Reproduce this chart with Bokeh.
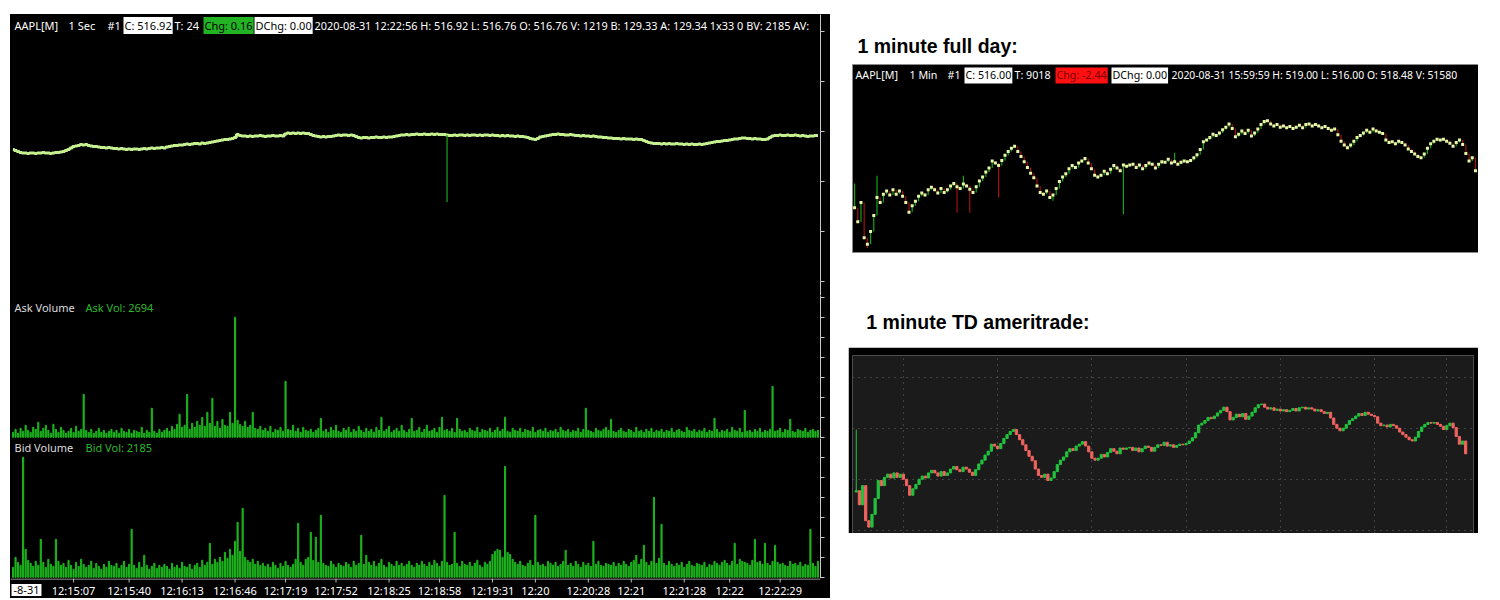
from bokeh.models import (Range1d, Label, FixedTicker, ColumnDataSource, Spacer, Grid,
                          CustomJSTickFormatter, Span)
from bokeh.core.properties import value
from bokeh.layouts import row, column
from bokeh.plotting import figure
from bokeh.embed import file_html
from bokeh.resources import INLINE

UI_FONT = "Noto Sans"
TITLE_FONT = "Liberation Sans"

# ---------------- 1-second chart data (bar index based) ----------------
sec_price = [
    516.64,516.62,516.60,516.58,516.57,516.57,516.56,516.57,516.57,516.56,516.57,516.57,516.58,516.57,516.57,516.56,516.57,516.58,516.58,516.59,
    516.60,516.62,516.64,516.67,516.70,516.71,516.72,516.74,516.73,516.74,516.72,516.71,516.70,516.70,516.69,516.68,516.68,516.67,516.68,516.67,
    516.66,516.66,516.65,516.66,516.65,516.64,516.65,516.64,516.65,516.65,516.64,516.65,516.66,516.65,516.66,516.67,516.66,516.67,516.67,516.68,
    516.67,516.69,516.70,516.71,516.72,516.72,516.73,516.73,516.74,516.75,516.74,516.75,516.76,516.76,516.75,516.77,516.76,516.77,516.78,516.79,
    516.80,516.81,516.82,516.83,516.84,516.84,516.85,516.86,516.88,516.94,516.92,516.91,516.91,516.90,516.91,516.90,516.91,516.91,516.92,516.91,
    516.90,516.91,516.91,516.92,516.91,516.91,516.92,516.91,516.95,516.97,516.96,516.97,516.96,516.97,516.96,516.97,516.96,516.96,516.94,516.92,
    516.91,516.90,516.89,516.90,516.89,516.90,516.90,516.91,516.92,516.93,516.92,516.93,516.93,516.92,516.93,516.92,516.90,516.88,516.87,516.88,
    516.88,516.87,516.88,516.88,516.89,516.88,516.88,516.89,516.88,516.89,516.89,516.90,516.91,516.92,516.93,516.93,516.94,516.93,516.94,516.94,
    516.95,516.94,516.94,516.95,516.94,516.94,516.95,516.94,516.95,516.94,516.94,516.94,516.93,516.92,516.92,516.93,516.92,516.93,516.93,516.92,
    516.93,516.92,516.93,516.93,516.92,516.93,516.92,516.93,516.93,516.92,516.93,516.92,516.92,516.91,516.92,516.91,516.92,516.91,516.91,516.90,
    516.91,516.90,516.90,516.89,516.88,516.86,516.85,516.84,516.86,516.89,516.90,516.91,516.92,516.93,516.94,516.94,516.95,516.94,516.94,516.93,
    516.93,516.94,516.93,516.92,516.92,516.91,516.92,516.91,516.91,516.90,516.91,516.90,516.89,516.89,516.88,516.88,516.87,516.87,516.86,516.86,
    516.86,516.85,516.86,516.85,516.85,516.85,516.84,516.85,516.84,516.84,516.82,516.80,516.78,516.77,516.76,516.76,516.76,516.75,516.76,516.75,
    516.76,516.75,516.75,516.76,516.75,516.75,516.74,516.75,516.74,516.75,516.74,516.74,516.75,516.74,516.75,516.76,516.77,516.78,516.79,516.80,
    516.80,516.81,516.82,516.82,516.83,516.84,516.85,516.85,516.86,516.87,516.87,516.86,516.86,516.85,516.86,516.85,516.85,516.84,516.84,516.85,
    516.88,516.91,516.92,516.92,516.93,516.92,516.92,516.93,516.92,516.92,516.93,516.92,516.91,516.92,516.91,516.90,516.91,516.91,516.92,516.92,
]
# bad tick: bar index and its low
sec_spike_bar = [172]
sec_spike_low = [515.59]

ask_volume = [
    125,200,100,225,150,300,175,125,250,200,375,150,225,300,175,100,325,200,125,250,
    175,100,150,225,125,275,150,200,1075,175,125,200,100,150,225,125,175,100,150,200,
    125,175,100,225,150,125,200,100,175,150,125,250,100,175,125,725,150,100,200,125,
    175,225,150,275,200,325,575,250,300,1075,200,350,250,400,300,500,275,625,350,975,
    275,400,225,450,300,275,625,350,3000,425,325,275,400,250,300,625,225,200,275,175,
    225,150,275,125,200,175,250,150,1400,200,175,300,150,225,125,250,175,150,200,125,
    175,225,475,150,200,125,250,175,300,150,125,225,175,250,125,200,150,275,175,125,
    225,150,200,125,250,175,500,150,200,275,125,175,225,150,300,175,125,200,475,150,
    175,250,125,200,300,150,175,225,125,250,500,175,200,150,225,125,475,200,150,175,
    125,225,175,150,250,125,200,175,150,225,125,175,250,150,200,500,150,125,225,175,
    150,225,125,200,175,150,250,125,175,200,150,225,125,175,150,200,125,250,175,150,
    200,125,175,150,225,125,200,725,175,150,125,225,175,150,200,250,175,450,150,125,
    175,225,150,125,200,175,125,250,150,175,125,200,150,225,125,175,150,200,125,175,
    150,225,125,175,200,150,125,250,175,150,200,125,175,150,225,125,175,150,475,200,
    125,175,150,200,125,250,175,150,225,125,675,150,175,125,200,150,225,125,175,150,
    200,1275,150,175,225,125,200,175,450,150,125,200,175,150,225,125,175,200,150,175,
]

bid_volume = [
    250,500,375,300,3000,700,425,350,275,400,300,950,375,250,450,325,275,950,400,300,
    350,250,425,300,200,375,275,450,325,250,300,400,225,350,275,200,325,250,400,300,
    275,350,225,300,400,250,325,1200,300,225,375,250,550,300,200,275,350,225,300,250,
    325,275,200,350,250,300,225,375,275,250,325,200,300,350,250,425,300,375,850,325,
    450,375,500,400,625,475,700,550,900,1375,650,1725,500,425,375,450,325,400,300,350,
    275,325,250,375,300,225,350,275,400,300,250,325,450,1350,375,300,450,500,1125,425,
    1000,375,1550,350,300,275,400,325,250,350,300,275,375,325,250,400,300,350,1050,325,
    550,375,300,400,275,350,450,300,250,375,325,275,400,300,350,275,325,400,300,250,
    350,300,400,325,275,375,300,425,350,275,400,2050,375,300,325,1125,350,275,400,325,
    300,375,275,350,425,300,250,375,325,400,575,650,700,675,500,2775,625,575,450,375,
    325,400,300,275,350,425,300,1550,375,300,325,275,400,350,300,375,275,325,400,675,
    300,350,275,400,325,250,375,300,350,275,900,325,400,300,275,350,325,300,375,275,
    350,300,400,325,275,375,425,550,325,450,800,375,300,400,2000,350,475,1325,350,300,
    400,325,275,350,300,375,250,325,400,300,275,350,325,300,375,250,325,300,400,350,
    300,375,425,350,300,400,850,325,450,400,375,350,300,425,950,375,400,325,850,350,
    300,400,800,375,325,350,300,275,400,325,350,300,375,275,325,300,1200,350,275,400,
]

time_tick_bars = [24, 46, 67, 88, 108, 128, 149, 169, 190, 207, 228, 245, 266, 284, 304]
time_tick_labels = ["12:15:07", "12:15:40", "12:16:13", "12:16:46", "12:17:19", "12:17:52",
                    "12:18:25", "12:18:58", "12:19:31", "12:20", "12:20:28", "12:21",
                    "12:21:28", "12:22", "12:22:29"]
date_stub = "-8-31"

# ---------------- 1-minute full day data (2-minute steps) ----------------
day_close = [
    510.2,508.0,511.0,505.5,504.5,506.5,509.0,511.8,511.0,512.3,512.8,512.2,513.0,512.3,512.8,
    512.0,511.0,509.5,510.5,511.2,512.0,512.5,512.2,513.0,513.4,513.0,512.5,513.2,512.6,513.0,
    513.6,514.0,513.5,513.2,513.9,513.6,513.1,512.6,513.5,514.4,515.0,515.8,516.4,517.5,517.2,
    516.8,517.6,518.4,519.0,519.5,519.8,519.0,518.2,517.4,516.5,515.6,514.9,513.6,512.6,512.3,
    512.8,511.8,512.2,513.2,514.3,515.0,515.5,516.3,516.8,516.5,517.2,517.5,517.9,517.2,516.3,
    515.3,515.0,515.3,515.9,515.5,516.2,516.8,516.4,516.0,516.9,516.7,516.9,517.0,516.5,516.9,
    516.3,516.8,517.2,517.0,516.4,517.0,517.4,517.3,517.8,517.2,517.4,517.0,517.3,517.5,517.4,
    517.6,518.0,518.5,519.3,520.5,520.8,521.2,521.7,521.5,521.9,522.4,522.8,523.3,522.6,521.3,
    521.7,522.2,521.8,522.3,521.4,521.9,522.5,523.2,523.7,523.8,523.3,523.0,523.2,522.8,523.0,
    522.7,522.9,522.6,522.8,523.1,522.7,523.2,523.3,523.0,523.2,523.0,522.7,522.9,522.6,522.3,
    522.5,521.6,520.6,520.0,519.6,520.0,520.6,521.2,521.5,521.9,522.3,522.0,522.5,522.2,522.0,
    521.8,520.8,520.4,520.5,520.2,520.6,520.4,520.0,519.4,519.0,518.6,518.2,518.0,518.6,519.5,
    520.2,520.6,520.9,520.8,520.9,520.6,520.3,519.8,520.4,520.8,520.1,518.7,517.5,518.0,516.0,
]
day_first_open = 510.0
# extra highs / lows (bad ticks) seen in the first feed
day_high_spikes = {0: 514.0, 7: 515.2, 34: 515.2, 100: 518.8}
day_low_spikes = {4: 503.9, 32: 509.4, 36: 509.4, 45: 511.8, 62: 511.3, 84: 509.2}
# TD feed: only the opening bar has a long wick
td_high_spikes = {0: 519.8}
td_grid_prices = [504, 512, 520, 528]
td_grid_bars = [15, 45, 75, 105, 135, 165, 188]

# ---------------- helpers ----------------
def header(p, x, y, text, color="white", bg=None, size="11px"):
    kw = {}
    if bg is not None:
        kw = dict(background_fill_color=bg, padding=1)
    p.add_layout(Label(x=x, y=y, x_units="screen", y_units="data", text=text,
                       text_color=color, text_font=UI_FONT, text_font_size=size,
                       text_baseline="middle", **kw))

N = len(sec_price)
bars = list(range(N))
x_rng = Range1d(-1, N)

def pane(frame_h, y_rng, right_axis=True):
    p = figure(frame_width=810, frame_height=frame_h, x_range=x_rng, y_range=y_rng,
               x_axis_type=None, y_axis_location="right" if right_axis else None,
               y_axis_type="linear" if right_axis else None,
               output_backend="svg", toolbar_location=None,
               background_fill_color="black", border_fill_color="black",
               outline_line_color=None, min_border_left=0, min_border_right=10,
               min_border_top=0, min_border_bottom=0)
    p.grid.visible = False
    if right_axis:
        ya = p.yaxis[0]
        ya.formatter = CustomJSTickFormatter(code="return ''")
        ya.major_label_standoff = 0
        ya.major_tick_in = 0
        ya.major_tick_out = 4
        ya.minor_tick_in = 0
        ya.minor_tick_out = 0
        ya.axis_line_color = "#c8c8c8"
        ya.major_tick_line_color = "#c8c8c8"
    return p

GREEN = "#1db41d"

# price pane
pp = pane(281, Range1d(513.72, 519.34))
pp.step(bars, sec_price, mode="center", line_color="#c5f08f", line_width=3)
pp.segment(x0=sec_spike_bar, y0=[sec_price[i] for i in sec_spike_bar],
           x1=sec_spike_bar, y1=sec_spike_low, line_color="#1ea61e", line_width=1.2)
hy = 519.12
header(pp, 4, hy, "AAPL[M]")
header(pp, 58, hy, "1 Sec")
header(pp, 97, hy, "#1")
header(pp, 113, hy, "C: 516.92", color="black", bg="white")
header(pp, 164, hy, "T: 24")
header(pp, 193, hy, "Chg: 0.16", color="black", bg="#22b422")
header(pp, 244, hy, "DChg: 0.00", color="black", bg="white")
header(pp, 304, hy, "2020-08-31 12:22:56 H: 516.92 L: 516.76 O: 516.76 V: 1219 B: 129.33 A: 129.34 1x33 0 BV: 2185 AV:",
       size="10.9px")

# ask pane
ap = pane(143, Range1d(-30, 3545))
ap.vbar(x=bars, top=ask_volume, bottom=0, width=0.45, color=GREEN)
header(ap, 4, 3245, "Ask Volume", color="#dddddd")
header(ap, 75, 3245, "Ask Vol: 2694", color="#2db82d")

# bid pane
bp = pane(140, Range1d(-30, 3470))
bp.vbar(x=bars, top=bid_volume, bottom=0, width=0.45, color=GREEN)
header(bp, 4, 3245, "Bid Volume", color="#dddddd")
header(bp, 75, 3245, "Bid Vol: 2185", color="#2db82d")

# time scale row (shares the bar-index x range)
tp = pane(20, Range1d(0, 20), right_axis=False)
tp.add_layout(Span(location=19.5, dimension="width", line_color="#bbbbbb", line_width=1))
tp.segment(x0=time_tick_bars, y0=[20] * len(time_tick_bars), x1=time_tick_bars,
           y1=[16] * len(time_tick_bars), line_color="#bbbbbb", line_width=1)
tp.text(x=time_tick_bars, y=[8.5] * len(time_tick_bars), text=time_tick_labels,
        text_align="center", text_baseline="middle", text_color="white",
        text_font=value(UI_FONT), text_font_size="11px")
tp.add_layout(Label(x=1, y=8.5, x_units="screen", y_units="data", text=date_stub,
                    text_color="black", text_font=UI_FONT, text_font_size="11px",
                    background_fill_color="white", padding=2, text_baseline="middle"))

panes = column(pp, ap, bp, tp, styles={"background-color": "black"})
left = column(Spacer(height=14, width=820), panes)

# ---------------- right side ----------------
def title_fig(h, text, x, base):
    p = figure(width=630, height=h, x_range=Range1d(0, 630), y_range=Range1d(0, h),
               x_axis_type=None, y_axis_type=None, output_backend="svg",
               toolbar_location=None, min_border=0, outline_line_color=None)
    p.grid.visible = False
    p.add_layout(Label(x=x, y=base, text=text, text_font=TITLE_FONT, text_font_style="bold",
                       text_font_size="19.5px", text_color="black", text_baseline="alphabetic"))
    return p

day_n = len(day_close)
day_x = list(range(day_n))
day_open = [day_first_open] + day_close[:-1]

# chart 1: first feed, with bad ticks
c1_hi = [max(o, c, day_high_spikes.get(i, 0)) for i, (o, c) in enumerate(zip(day_open, day_close))]
c1_lo = [min(o, c, day_low_spikes.get(i, 1e9)) for i, (o, c) in enumerate(zip(day_open, day_close))]
c1_col = ["#17a317" if c >= o else "#a31010" for o, c in zip(day_open, day_close)]
src1 = ColumnDataSource(dict(x=day_x, hi=c1_hi, lo=c1_lo, c=day_close, col=c1_col))

c1 = figure(frame_width=630, frame_height=188, x_range=Range1d(-0.65, 196.2),
            y_range=Range1d(503.2, 532.6), x_axis_type=None, y_axis_type=None,
            output_backend="svg", toolbar_location=None,
            background_fill_color="black", border_fill_color="white",
            outline_line_color="#8a8a8a", min_border_left=0, min_border_right=0,
            min_border_top=1, min_border_bottom=1)
c1.grid.visible = False
c1.segment(x0="x", y0="lo", x1="x", y1="hi", line_color="col", line_width=1.2, source=src1)
c1.scatter(x="x", y="c", marker="square", size=3, fill_color="#e6f7a6",
           line_color=None, source=src1)
hy1 = 530.88
RH = "10.7px"
header(c1, 3, hy1, "AAPL[M]", size=RH)
header(c1, 57, hy1, "1 Min", size=RH)
header(c1, 95, hy1, "#1", size=RH)
header(c1, 112, hy1, "C: 516.00", color="black", bg="white", size=RH)
header(c1, 162, hy1, "T: 9018", size=RH)
header(c1, 203, hy1, "Chg: -2.44", color="#7a0000", bg="#ff1010", size=RH)
header(c1, 259, hy1, "DChg: 0.00", color="black", bg="white", size=RH)
header(c1, 319, hy1, "2020-08-31 15:59:59 H: 519.00 L: 516.00 O: 518.48 V: 51580", size="10.4px")

# chart 2: TD ameritrade feed
td_hi = [max(o, c, td_high_spikes.get(i, 0)) for i, (o, c) in enumerate(zip(day_open, day_close))]
td_lo = [min(o, c) for o, c in zip(day_open, day_close)]
td_top = [max(o, c) for o, c in zip(day_open, day_close)]
td_col = ["#22c23e" if c >= o else "#f0645f" for o, c in zip(day_open, day_close)]
src2 = ColumnDataSource(dict(x=day_x, hi=td_hi, lo=td_lo, top=td_top, bot=td_lo, col=td_col))

c2 = figure(frame_width=621, frame_height=178, x_range=Range1d(-1.2, 196.5),
            y_range=Range1d(503.5, 531.4), x_axis_type=None, y_axis_type=None,
            output_backend="svg", toolbar_location=None,
            background_fill_color="#1b1b1b", border_fill_color="black",
            outline_line_color=None, min_border_left=4, min_border_right=5,
            min_border_top=8, min_border_bottom=0)
c2.grid.visible = False
c2.add_layout(Grid(dimension=0, ticker=FixedTicker(ticks=td_grid_bars),
                   grid_line_color="#6a6a6a", grid_line_dash="1 5"))
c2.add_layout(Grid(dimension=1, ticker=FixedTicker(ticks=td_grid_prices),
                   grid_line_color="#6a6a6a", grid_line_dash="1 5"))
c2.segment(x0="x", y0="lo", x1="x", y1="hi", line_color="col", line_width=1, source=src2)
c2.vbar(x="x", top="top", bottom="bot", width=0.7, fill_color="col", line_color="col",
        source=src2)

right = column(title_fig(63, "1 minute full day:", 5, 18), c1,
               title_fig(94, "1 minute TD ameritrade:", 14, 26), c2)

page = row(Spacer(width=10, height=10), left, Spacer(width=18, height=10), right)

open("out.html", "w").write(file_html(page, INLINE))
